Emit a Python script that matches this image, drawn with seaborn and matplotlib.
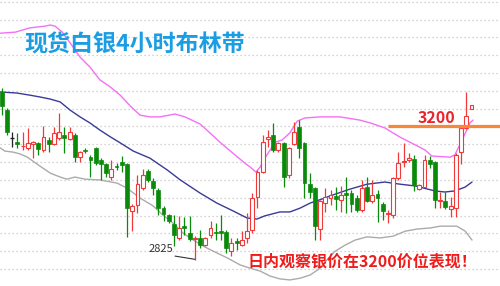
import numpy as np
import pandas as pd
import matplotlib
matplotlib.use("Agg")
import matplotlib.pyplot as plt
import seaborn as sns

# ---------------- data ----------------
opens = [3297, 3246, 3167, 3156, 3144, 3139, 3151, 3153, 3134, 3162,
         3151, 3167, 3176, 3165, 3176, 3114, 3134, 3114, 3140, 3106,
         3095, 3058, 3089, 3100, 3095, 2962, 2979, 3027, 3075, 3047,
         3022, 2971, 2951, 2926, 2887, 2920, 2901, 2884, 2887, 2867,
         2895, 2904, 2906, 2904, 2850, 2878, 2867, 2887, 2909, 3002,
         3072, 3165, 3176, 3134, 3153, 3064, 3151, 3198, 3153, 3038,
         3027, 2912, 2985, 2999, 3005, 2994, 3013, 3013, 2999, 2965,
         3030, 2990, 3010, 2982, 2954, 2951, 3055, 3100, 3106, 3109,
         3024, 3030, 3106, 3100, 2991, 2991, 2968, 2971, 3128, 3196, 3249]
highs = [3308, 3252, 3184, 3182, 3185, 3196, 3159, 3156, 3201, 3170,
         3198, 3238, 3198, 3198, 3181, 3131, 3140, 3120, 3142, 3111,
         3097, 3106, 3097, 3117, 3097, 2982, 3064, 3081, 3081, 3055,
         3027, 2977, 2954, 2951, 2948, 2946, 2948, 2892, 2909, 2890,
         2935, 2929, 2951, 2909, 2887, 2887, 2906, 2957, 3013, 3078,
         3176, 3190, 3210, 3156, 3156, 3142, 3212, 3218, 3156, 3069,
         3030, 2993, 3027, 3022, 3030, 3033, 3058, 3022, 3008, 3050,
         3058, 3050, 3022, 2988, 2966, 3058, 3128, 3153, 3125, 3120,
         3038, 3120, 3117, 3103, 3016, 3016, 3002, 3125, 3204, 3297, 3260]
lows = [3232, 3176, 3142, 3140, 3134, 3134, 3111, 3120, 3128, 3128,
        3148, 3162, 3125, 3162, 3100, 3100, 3125, 3058, 3092, 3050,
        3058, 3050, 3077, 3072, 2889, 2906, 2957, 3022, 3044, 3008,
        2951, 2935, 2929, 2864, 2881, 2895, 2878, 2825, 2859, 2864,
        2887, 2881, 2881, 2845, 2836, 2853, 2864, 2873, 2901, 2971,
        3069, 3142, 3128, 3128, 3030, 3055, 3148, 3111, 2999, 2999,
        2881, 2881, 2960, 2979, 2966, 2960, 2957, 2960, 2960, 2960,
        2988, 2985, 2932, 2937, 2929, 2943, 3050, 3086, 3100, 3019,
        3022, 3030, 3083, 2971, 2971, 2968, 2946, 2946, 3094, 3193, 3249]
closes = [3258, 3184, 3167, 3151, 3146, 3153, 3156, 3137, 3170, 3151,
          3181, 3184, 3167, 3184, 3114, 3128, 3131, 3106, 3097, 3095,
          3069, 3081, 3086, 3092, 2971, 2977, 3038, 3064, 3050, 3027,
          2971, 2954, 2935, 2895, 2915, 2915, 2884, 2887, 2867, 2887,
          2915, 2901, 2901, 2859, 2873, 2873, 2881, 2906, 2999, 3072,
          3156, 3171, 3134, 3153, 3058, 3139, 3184, 3139, 3041, 3016,
          2920, 2990, 3002, 3008, 2996, 3008, 3008, 2982, 2965, 3027,
          2990, 3008, 2999, 2962, 2957, 3055, 3097, 3103, 3111, 3036,
          3036, 3106, 3095, 2994, 2994, 2974, 2977, 3120, 3196, 3229, 3260]

upper_x = [-0.3, 2.6, 5.4, 8.3, 9.3, 10.2, 11.6, 13.1, 15.0, 16.9, 18.8, 20.8,
           22.7, 24.6, 26.5, 28.4, 30.3, 33.2, 35.1, 38.0, 39.3, 41.8, 44.7,
           46.6, 47.6, 48.7, 49.5, 50.4, 52.4, 53.7, 55.2, 56.6, 58.1, 61.0,
           64.8, 68.6, 70.6, 73.4, 76.3, 78.2, 81.1, 82.4, 85.9, 86.8, 88.2,
           89.7, 90.3]
upper_y = [3462, 3465, 3477, 3482, 3485, 3482, 3465, 3435, 3395, 3367, 3331, 3311,
           3288, 3258, 3232, 3227, 3227, 3235, 3227, 3207, 3190, 3156, 3120,
           3097, 3086, 3072, 3086, 3111, 3156, 3162, 3182, 3215, 3224, 3227,
           3227, 3218, 3210, 3196, 3170, 3156, 3134, 3117, 3114, 3120, 3162,
           3210, 3218]

mid_x = [-0.3, 2.9, 5.4, 7.3, 9.3, 11.2, 13.1, 15.0, 16.9, 18.8, 20.8, 22.7,
         25.2, 28.4, 31.7, 34.2, 38.0, 41.2, 44.3, 47.0, 48.9, 50.4, 53.3,
         55.2, 57.2, 59.1, 61.9, 62.9, 66.7, 70.0, 73.4, 76.3, 79.2, 83.0,
         84.9, 86.8, 88.8, 90.1]
mid_y = [3297, 3294, 3288, 3283, 3277, 3269, 3246, 3227, 3210, 3190, 3171, 3154,
         3131, 3111, 3078, 3050, 3013, 2985, 2963, 2943, 2940, 2949, 2960,
         2960, 2971, 2985, 2999, 3005, 3024, 3038, 3044, 3038, 3033, 3019,
         3016, 3019, 3030, 3044]

lower_x = [-0.3, 0.6, 2.2, 3.5, 4.9, 7.3, 9.3, 11.2, 12.5, 14.0, 16.0, 18.8,
           22.1, 24.0, 26.5, 29.0, 30.9, 32.8, 34.7, 36.7, 38.6, 40.5, 43.2,
           45.7, 47.6, 49.5, 51.4, 53.3, 55.2, 57.2, 59.1, 61.0, 62.3, 63.9,
           65.8, 67.7, 70.0, 72.5, 75.0, 77.3, 79.6, 82.1, 84.0, 85.9, 87.2,
           88.8, 90.1]
lower_y = [3140, 3131, 3128, 3123, 3114, 3089, 3069, 3058, 3052, 3058, 3052, 3050,
           3041, 3027, 2999, 2977, 2951, 2929, 2901, 2881, 2864, 2850, 2831,
           2811, 2802, 2794, 2780, 2772, 2769, 2774, 2783, 2802, 2825, 2850,
           2867, 2881, 2890, 2887, 2892, 2906, 2912, 2915, 2920, 2920, 2920,
           2906, 2881]

grid_levels = list(range(2800, 3551, 50))
title_text = "现货白银4小时布林带"
level_value = 3200
level_label = "3200"
low_label = "2825"
low_index = 37
low_value = 2825
note_text = "日内观察银价在3200价位表现！"

# ---------------- plot ----------------
sns.set_theme(style="white")
plt.rcParams['font.family'] = ['Noto Sans CJK SC', 'DejaVu Sans']

fig = plt.figure(figsize=(5.0, 2.86), dpi=100)
ax = fig.add_axes([0, 0, 1, 1])
ax.set_facecolor("white")

for g in grid_levels:
    ax.axhline(g, color="#c4c4c4", lw=0.9, linestyle=(0, (1, 2.2)), zorder=0)

idx = np.arange(len(opens))
df = pd.DataFrame({"i": idx, "o": opens, "h": highs, "l": lows, "c": closes})

RED = "#f03a3a"
GREEN = "#0a8a0a"
colors = []
for o, c in zip(df.o, df.c):
    if c > o:
        colors.append(RED)
    elif c < o:
        colors.append(GREEN)
    else:
        colors.append("#222222")

ax.vlines(df.i, df.l, df.h, colors=colors, lw=0.9, zorder=2)

w = 0.74
for i, o, c, col in zip(df.i, df.o, df.c, colors):
    bot = min(o, c)
    hgt = max(abs(c - o), 1.5)
    if col == RED:
        ax.bar(i, hgt, bottom=bot, width=w, facecolor="white", edgecolor=RED,
               linewidth=0.8, zorder=3)
    elif col == GREEN:
        ax.bar(i, hgt, bottom=bot, width=w, facecolor=GREEN, edgecolor=GREEN,
               linewidth=0.5, zorder=3)
    else:
        ax.hlines(o, i - w / 2, i + w / 2, colors=col, lw=1.0, zorder=3)

bands = [(upper_x, upper_y, "#f470f4"), (mid_x, mid_y, "#3a3a98"),
         (lower_x, lower_y, "#ababab")]
for bx, by, col in bands:
    sns.lineplot(x=bx, y=by, ax=ax, color=col, lw=1.0, sort=False, zorder=1.5,
                 estimator=None)

# 3200 level line
ax.hlines(level_value, 74.0, 96.0, colors="#f7883a", lw=2.3, zorder=4)

ax.set_xlim(-0.33, 95.46)
ax.set_ylim(2752, 3555.3)
ax.set_xticks([])
ax.set_yticks([])
for s in ax.spines.values():
    s.set_visible(False)

ax.text(0.27, 0.842, title_text, transform=ax.transAxes, ha="center", va="center",
        fontsize=16.6, fontweight="bold", color="#1a9de2")
ax.text(0.873, 0.587, level_label, transform=ax.transAxes, ha="center", va="center",
        fontsize=11.5, fontweight="bold", color="#e8242c")
ax.text(0.724, 0.087, note_text, transform=ax.transAxes, ha="center", va="center",
        fontsize=11.5, fontweight="bold", color="#f01c1c")
ax.text(0.322, 0.130, low_label, transform=ax.transAxes, ha="center", va="center",
        fontsize=8, color="#333333")
ax.plot([33.2, low_index], [2836, low_value + 2], color="#333333", lw=0.8, zorder=4)

fig.savefig("out.png", dpi=100)
